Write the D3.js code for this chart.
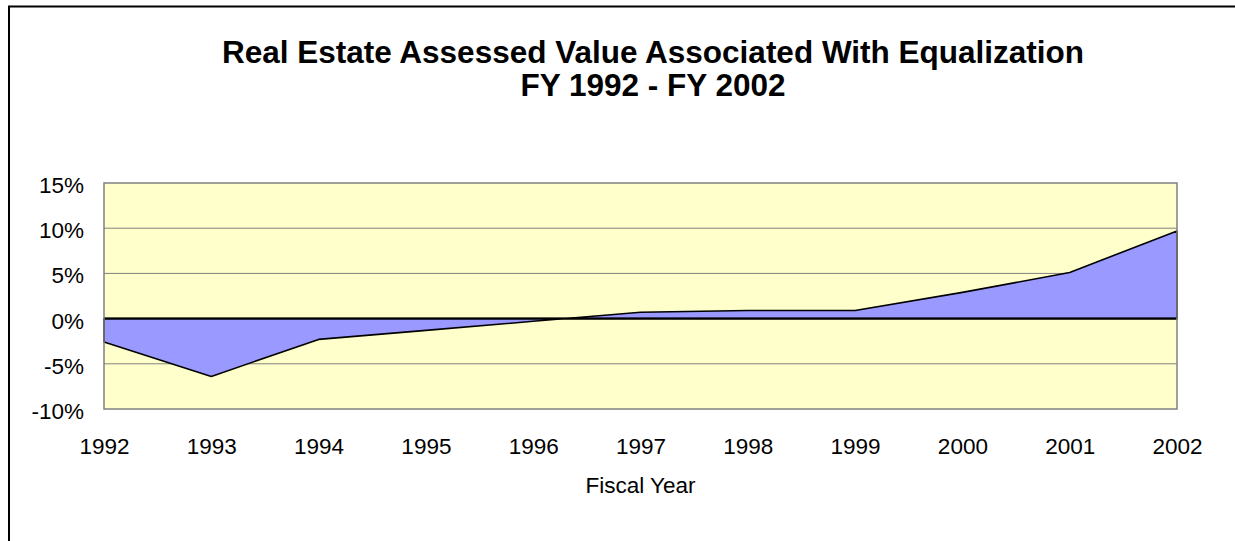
<!DOCTYPE html>
<html>
<head>
  <meta charset="UTF-8">
  <script src="https://d3js.org/d3.v7.min.js"></script>
  <style>
    html, body { margin: 0; background: #fff; overflow: hidden; }
    svg { display: block; }
    text { font-family: Arial, "Liberation Sans", sans-serif; fill: #000; }
  </style>
</head>
<body>
  <script>
    // data
    var years = ["1992", "1993", "1994", "1995", "1996", "1997", "1998", "1999", "2000", "2001", "2002"];
    var values = [-2.6, -6.4, -2.3, -1.3, -0.3, 0.7, 0.9, 0.9, 2.9, 5.1, 9.7];
    var yTicks = [-10, -5, 0, 5, 10, 15];
    var titleLines = ["Real Estate Assessed Value Associated With Equalization", "FY 1992 - FY 2002"];
    var xTitle = "Fiscal Year";

    var width = 1235;
    var height = 541;
    var plot = { left: 104, right: 1177, top: 183, bottom: 409 };

    var svg = d3.select("body")
      .append("svg")
      .attr("width", width)
      .attr("height", height);

    // outer chart border (right and bottom edges fall outside the window)
    svg.append("rect")
      .attr("x", 9)
      .attr("y", 6.5)
      .attr("width", 1300)
      .attr("height", 600)
      .attr("fill", "#fff")
      .attr("stroke", "#000")
      .attr("stroke-width", 2);

    // title
    svg.append("g").selectAll("text")
      .data(titleLines)
      .enter()
      .append("text")
      .attr("x", 653)
      .attr("y", function(d, i) { return 63 + i * 32.5; })
      .attr("text-anchor", "middle")
      .attr("font-weight", "bold")
      .attr("font-size", 31.5)
      .text(function(d) { return d; });

    // scales
    var x = d3.scalePoint()
      .domain(years)
      .range([plot.left, plot.right]);

    var y = d3.scaleLinear()
      .domain([-10, 15])
      .range([plot.bottom, plot.top]);

    // plot background
    svg.append("rect")
      .attr("x", plot.left)
      .attr("y", plot.top)
      .attr("width", plot.right - plot.left)
      .attr("height", plot.bottom - plot.top)
      .attr("fill", "#ffffcc");

    // gridlines
    svg.append("g").selectAll("line")
      .data(yTicks.filter(function(d) { return d > -10 && d < 15; }))
      .enter()
      .append("line")
      .attr("x1", plot.left)
      .attr("x2", plot.right)
      .attr("y1", function(d) { return y(d); })
      .attr("y2", function(d) { return y(d); })
      .attr("stroke", "#808080")
      .attr("stroke-width", 1);

    // area
    var area = d3.area()
      .x(function(d, i) { return x(years[i]); })
      .y0(y(0))
      .y1(function(d) { return y(d); });

    svg.append("path")
      .datum(values)
      .attr("d", area)
      .attr("fill", "#9999ff")
      .attr("stroke", "#000")
      .attr("stroke-width", 1.6)
      .attr("stroke-linejoin", "round");

    // zero line
    svg.append("line")
      .attr("x1", plot.left)
      .attr("x2", plot.right)
      .attr("y1", y(0))
      .attr("y2", y(0))
      .attr("stroke", "#000")
      .attr("stroke-width", 2);

    // plot border
    svg.append("rect")
      .attr("x", plot.left)
      .attr("y", plot.top)
      .attr("width", plot.right - plot.left)
      .attr("height", plot.bottom - plot.top)
      .attr("fill", "none")
      .attr("stroke", "#808080")
      .attr("stroke-width", 1.5);

    // y axis
    var yAxis = svg.append("g")
      .attr("transform", "translate(" + plot.left + ",0)")
      .call(d3.axisLeft(y).tickValues(yTicks).tickSize(0).tickPadding(20)
        .tickFormat(function(d) { return d + "%"; }));
    yAxis.select(".domain").remove();
    yAxis.selectAll("text")
      .attr("font-size", 22.5)
      .attr("font-family", "Arial, 'Liberation Sans', sans-serif")
      .attr("fill", "#000")
      .attr("dy", "0.42em");

    // x axis
    var xAxis = svg.append("g")
      .attr("transform", "translate(0," + plot.bottom + ")")
      .call(d3.axisBottom(x).tickSize(0).tickPadding(0));
    xAxis.select(".domain").remove();
    xAxis.selectAll("text")
      .attr("font-size", 22.5)
      .attr("font-family", "Arial, 'Liberation Sans', sans-serif")
      .attr("fill", "#000")
      .attr("y", 45)
      .attr("dy", 0);

    // x axis title
    svg.append("text")
      .attr("x", (plot.left + plot.right) / 2)
      .attr("y", 493)
      .attr("text-anchor", "middle")
      .attr("font-size", 22.5)
      .text(xTitle);
  </script>
</body>
</html>
